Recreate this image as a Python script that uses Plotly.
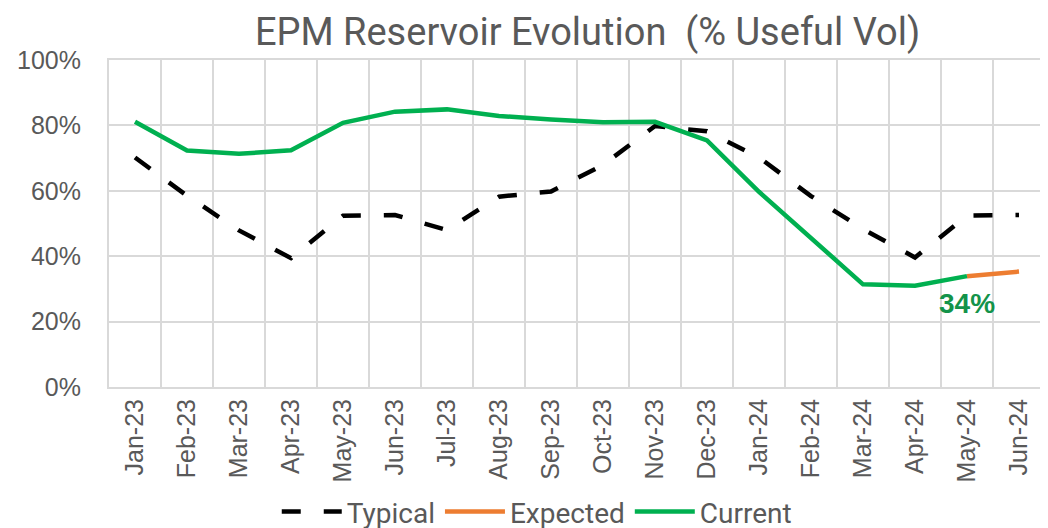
import plotly.graph_objects as go

# meses (eixo categórico)
meses = ["Jan-23", "Feb-23", "Mar-23", "Apr-23", "May-23", "Jun-23", "Jul-23",
         "Aug-23", "Sep-23", "Oct-23", "Nov-23", "Dec-23", "Jan-24", "Feb-24",
         "Mar-24", "Apr-24", "May-24", "Jun-24"]

tipico = [70.2, 58.5, 47.9, 39.4, 52.4, 52.6, 48.0, 58.2, 59.8, 67.9, 79.8, 78.2,
          70.2, 58.4, 48.3, 39.6, 52.4, 52.6]
atual = [81.1, 72.3, 71.3, 72.4, 80.8, 84.2, 84.9, 82.9, 81.8, 81.0, 81.1, 75.4,
         59.7, 45.6, 31.4, 31.0, 33.9]
esperado_meses = ["May-24", "Jun-24"]
esperado = [33.9, 35.3]

VERDE = "#00B050"
LARANJA = "#ED7D31"
CINZA = "#595959"

fig = go.Figure()
fig.add_trace(go.Scatter(x=meses, y=tipico, name="Typical", mode="lines",
                         line=dict(color="black", width=4.5, dash="19px,23px")))
fig.add_trace(go.Scatter(x=esperado_meses, y=esperado, name="Expected", mode="lines",
                         line=dict(color=LARANJA, width=4.5)))
fig.add_trace(go.Scatter(x=meses[:len(atual)], y=atual, name="Current", mode="lines",
                         line=dict(color=VERDE, width=4.5)))

fig.add_annotation(x="May-24", y=atual[-1], text="<b>34%</b>", showarrow=False,
                   yshift=-27, font=dict(size=28, color="#13934A",
                                         family="Liberation Sans, Arial"))

# a página tem 8px de margem no body: margens compensadas
fig.update_layout(
    width=1048, height=528,
    margin=dict(l=101, r=11, t=52, b=149, autoexpand=False),
    plot_bgcolor="white", paper_bgcolor="white",
    title=dict(text="EPM Reservoir Evolution  (% Useful Vol)",
               x=0.553, xanchor="center", y=0.956, yanchor="middle",
               font=dict(size=38, color=CINZA, family="Roboto")),
    legend=dict(orientation="h", x=0.457, xanchor="center", y=-0.382, yanchor="middle",
                font=dict(size=28, color=CINZA, family="Roboto"),
                itemwidth=60, tracegroupgap=0),
    font=dict(family="Liberation Sans, Arial", color=CINZA),
)
fig.update_xaxes(type="category", categoryorder="array", categoryarray=meses,
                 range=[-0.5, len(meses) - 0.5], tickson="boundaries",
                 showgrid=True, gridcolor="#D9D9D9", gridwidth=2,
                 showline=True, linecolor="#D9D9D9", linewidth=2, mirror=True,
                 ticks="", tickangle=-90, tickfont=dict(size=25, color=CINZA))
fig.update_yaxes(range=[0, 100], dtick=20, ticksuffix="%",
                 showgrid=True, gridcolor="#D9D9D9", gridwidth=2, zeroline=False,
                 showline=True, linecolor="#D9D9D9", linewidth=2, mirror=True,
                 ticks="", ticklabelstandoff=21, tickfont=dict(size=25, color=CINZA))

fig.write_html("out.html")
